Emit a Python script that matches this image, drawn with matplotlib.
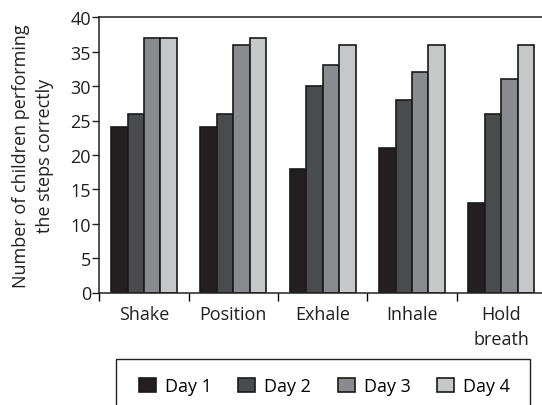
import numpy as np
import matplotlib.pyplot as plt
from matplotlib.patches import Rectangle

# data
categories = ["Shake", "Position", "Exhale", "Inhale", "Hold\nbreath"]
days = ["Day 1", "Day 2", "Day 3", "Day 4"]
day1 = [24, 24, 18, 21, 13]
day2 = [26, 26, 30, 28, 26]
day3 = [37, 36, 33, 32, 31]
day4 = [37, 37, 36, 36, 36]
colors = ["#231f20", "#4a4b4d", "#8a8b8e", "#c6c7c9"]

plt.rcParams['font.family'] = ['Open Sans', 'DejaVu Sans']
fs = 13

W, H = 542, 406
fig = plt.figure(figsize=(W / 100, H / 100), dpi=100)
# axes spans past the right edge, the original is cropped there
left, right, top, bottom = 99.3, 546, 18.3, 293.5
ax = fig.add_axes([left / W, 1 - bottom / H, (right - left) / W, (bottom - top) / H])

x = np.arange(len(categories))
bw = 0.184
series = [day1, day2, day3, day4]
bars = []
for i, vals in enumerate(series):
    b = ax.bar(x + (i - 1.5) * bw, vals, bw, color=colors[i],
               edgecolor="#1a1a1a", linewidth=1.2, label=days[i])
    bars.append(b)

ax.set_xlim(-0.5, len(categories) - 0.5)
ax.set_ylim(0, 40)
ax.set_yticks(range(0, 41, 5))
ax.tick_params(axis='y', direction='out', length=5, width=1, labelsize=fs,
               colors="#231f20", pad=1)

# category labels between separator ticks
ax.set_xticks(np.arange(len(categories) + 1) - 0.5)
ax.set_xticklabels([])
ax.set_xticks(x, minor=True)
ax.set_xticklabels(categories, minor=True, fontsize=fs, color="#231f20",
                   linespacing=1.5)
ax.tick_params(axis='x', which='major', direction='out', length=6, width=1)
ax.tick_params(axis='x', which='minor', length=0, pad=9)

for s in ax.spines.values():
    s.set_linewidth(1.1)
    s.set_color("#222222")

fig.text(33 / W, 1 - 156 / H, "Number of children performing\nthe steps correctly",
         rotation=90, ha='center', va='center', fontsize=fs,
         color="#231f20", linespacing=1.4)

# legend box, cut off at the bottom like the original
fig.patches.append(Rectangle((116 / W, -0.05), (530 - 116) / W, 1 - 360 / H + 0.05,
                             transform=fig.transFigure, fill=False,
                             edgecolor="#222222", linewidth=1.0))
fig.legend(handles=bars, labels=days, loc='center left', ncol=4, frameon=False,
           bbox_to_anchor=(130 / W, 1 - 387 / H), fontsize=fs,
           handlelength=0.95, handleheight=0.8, handletextpad=0.5,
           columnspacing=1.45, borderpad=0)

fig.savefig("out.png", dpi=100)
